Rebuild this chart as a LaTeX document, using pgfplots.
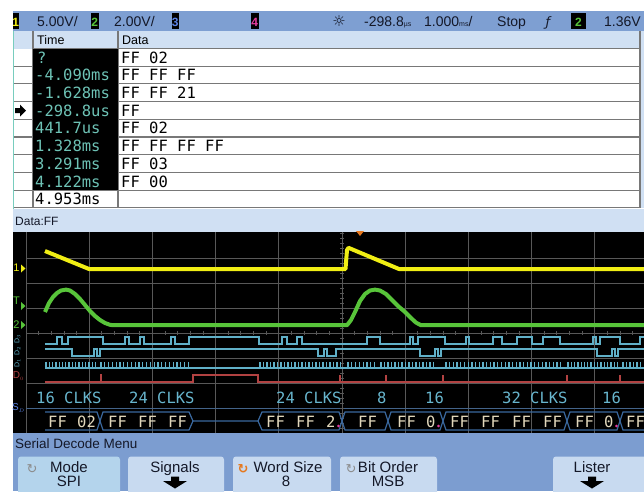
\documentclass[border=0pt]{standalone}
\usepackage{pgfplots}
\pgfplotsset{compat=1.18}
\usepackage{fontspec}
\setmainfont{Liberation Sans}
\newfontfamily\mono{DejaVu Sans Mono}
\newfontfamily\dv{DejaVu Sans}
\definecolor{barblue}{RGB}{126,159,210}
\definecolor{hdrblue}{RGB}{208,224,243}
\definecolor{tealt}{RGB}{110,195,182}
\definecolor{tealb}{RGB}{120,205,190}
\definecolor{gridc}{RGB}{88,88,88}
\definecolor{yel}{RGB}{240,238,20}
\definecolor{grn}{RGB}{88,196,58}
\definecolor{cyn}{RGB}{96,176,200}
\definecolor{redc}{RGB}{178,66,66}
\definecolor{busb}{RGB}{58,104,158}
\definecolor{beige}{RGB}{226,216,188}
\definecolor{clks}{RGB}{104,182,206}
\definecolor{btn}{RGB}{200,218,240}
\definecolor{btnmode}{RGB}{180,212,236}
\definecolor{menublue}{RGB}{124,157,208}
\definecolor{rowline}{RGB}{120,120,120}
\definecolor{txt}{RGB}{20,24,40}
\definecolor{pinkc}{RGB}{230,60,160}
\definecolor{blue3}{RGB}{90,130,230}
\definecolor{orangec}{RGB}{230,120,30}
\newcommand{\TL}[4][]{\node[anchor=base west,inner sep=0,#1] at (axis cs:#2,#3) {#4};}
\newcommand{\TC}[4][]{\node[anchor=base,inner sep=0,#1] at (axis cs:#2,#3) {#4};}
\newcommand{\mt}{\mono\fontsize{15.5}{16}\selectfont}
\newcommand{\bt}{\mono\fontsize{15.5}{16}\selectfont}
\begin{document}
\begin{tikzpicture}
\begin{axis}[width=644pt,height=491pt,scale only axis,
  xmin=0,xmax=644,ymin=0,ymax=491,y dir=reverse,
  axis lines=none,clip=true,unbounded coords=jump]
% background
\addplot[fill=white,draw=none] coordinates {(0,0)(644,0)(644,491)(0,491)};
% top bar
\addplot[fill=barblue,draw=none] coordinates {(13,11)(644,11)(644,31)(13,31)};
% header row
\addplot[fill=hdrblue,draw=none] coordinates {(13,31)(644,31)(644,48.5)(13,48.5)};
\addplot[fill=hdrblue,draw=none] coordinates {(640,31)(644,31)(644,208)(640,208)};
% row lines
\addplot[rowline,line width=1.1pt] coordinates {
 (33,48.5)(640,48.5) (nan,nan) (13,66.2)(640,66.2) (nan,nan) (13,83.9)(640,83.9) (nan,nan)
 (13,101.6)(640,101.6) (nan,nan) (13,119.3)(640,119.3) (nan,nan) (13,137)(640,137) (nan,nan)
 (13,154.7)(640,154.7) (nan,nan) (13,172.4)(640,172.4) (nan,nan) (13,190.1)(640,190.1) (nan,nan)
 (13,207.8)(640,207.8) (nan,nan)
 (33,31)(33,207.8) (nan,nan) (118,31)(118,207.8) (nan,nan) (640,31)(640,207.8)};
% black time cells
\addplot[fill=black,draw=none] coordinates {(33,48.5)(118,48.5)(118,190.1)(33,190.1)};
\addplot[tealb,line width=1.2pt] coordinates {(13.5,31)(13.5,232)};
% data bar
\addplot[fill=hdrblue,draw=none] coordinates {(13,208.5)(644,208.5)(644,232)(13,232)};
% row-4 arrow
\addplot[fill=black,draw=none] coordinates {(15,108)(20,108)(20,104.5)(26,110.5)(20,116.5)(20,113)(15,113)};
% scope background
\addplot[fill=black,draw=none] coordinates {(13,232)(644,232)(644,433)(13,433)};
% grid
\addplot[gridc,line width=0.8pt] coordinates {
 (26,232)(26,433) (nan,nan) (89.2,232)(89.2,433) (nan,nan) (152.4,232)(152.4,433) (nan,nan)
 (215.6,232)(215.6,433) (nan,nan) (278.8,232)(278.8,433) (nan,nan) (342,232)(342,433) (nan,nan)
 (405.2,232)(405.2,433) (nan,nan) (468.4,232)(468.4,433) (nan,nan) (531.6,232)(531.6,433) (nan,nan)
 (594.8,232)(594.8,433) (nan,nan)
 (26,258)(644,258) (nan,nan) (26,283)(644,283) (nan,nan) (26,308)(644,308) (nan,nan)
 (26,333)(644,333) (nan,nan) (26,358)(644,358) (nan,nan) (26,383)(644,383)};
\addplot[busb!70!gridc,line width=1pt] coordinates {(26,408.5)(644,408.5)};
\addplot[gridc,line width=4pt,dash pattern=on 0.8pt off 11.84pt] coordinates {(25.6,333)(644,333)};
\addplot[gridc,line width=4pt,dash pattern=on 0.8pt off 4.2pt] coordinates {(342,232.6)(342,433)};
% trigger marker
\addplot[fill=orangec,draw=none] coordinates {(356,231)(364,231)(360,236)};
% channel 1 (yellow)
\addplot[yel,line width=4pt,line join=round] coordinates {(45,251)(89,269)(345.5,269)(346.2,260)(347,250)(348.5,247.8)(399,269)(644,269)};
% channel 2 (green)
\addplot[grn,line width=4pt,line join=round] coordinates {
 (45,312)(49,303)(53,297)(57,293)(61,290.5)(66,289.6)(70,290.5)(75,294)(80,299)(85,305)(90,311)
 (95,316)(100,320)(105,323)(110,324.8)(113,325.2)
 (347,325.2)(351,320)(355,312)(360,301)(365,294)(370,290.5)(375,289.6)(380,290.5)(386,294)
 (392,300)(398,306)(405,312)(411,318)(416,322.6)(421,325.2)(644,325.2)};
% D3
\addplot[cyn,line width=1.2pt] coordinates {(45,344)(57,344)(57,337)(62,337)(62,344)(68,344)(68,337)(103,337)(103,344)(125,344)(125,337)(129,337)(129,344)(140,344)(140,337)(144,337)(144,344)(171,344)(171,337)(175,337)(175,344)(189,344)(189,337)(259,337)(259,344)(282,344)(282,337)(287,337)(287,344)(297,344)(297,337)(302,337)(302,344)(367,344)(367,337)(380,337)(380,344)(410,344)(410,337)(413,337)(413,344)(418,344)(418,337)(445,337)(445,344)(466,344)(466,337)(469,337)(469,344)(493,344)(493,337)(502,337)(502,344)(517,344)(517,337)(532,337)(532,344)(543,344)(543,337)(560,337)(560,344)(593,344)(593,337)(596,337)(596,344)(600,344)(600,337)(620,337)(620,344)(640,344)(640,337)(644,337)};
% D2
\addplot[cyn,line width=1.2pt] coordinates {(45,349)(72,349)(72,356)(94,356)(94,349)(97,349)(97,356)(100,356)(100,349)(318,349)(318,356)(324,356)(324,349)(327,349)(327,356)(336,356)(336,349)(420,349)(420,356)(435,356)(435,349)(438,349)(438,356)(441,356)(441,349)(597,349)(597,356)(612,356)(612,349)(615,349)(615,356)(618,356)(618,349)(644,349)};
% D1 baseline and clock pulses
\addplot[cyn,line width=1.2pt] coordinates {(45,368)(644,368)};
\addplot[cyn,only marks,mark=|,mark size=3.2pt,mark options={line width=1.3pt}] coordinates {
 (46,365)(49.3,365)(52.6,365)(55.9,365)(59.2,365)(62.5,365)(65.8,365)(69.1,365)(72.4,365)(75.7,365)(79,365)(82.3,365)(85.6,365)(88.9,365)(92.2,365)(95.5,365)
 (101,365)(104.8,365)(108.6,365)(112.4,365)(116.2,365)(120,365)(123.8,365)(127.6,365)(131.4,365)(135.2,365)(139,365)(142.8,365)(146.6,365)(150.4,365)(154.2,365)(158,365)(161.8,365)(165.6,365)(169.4,365)(173.2,365)(177,365)(180.8,365)(184.6,365)(188.4,365)
 (260,365)(263.5,365)(267,365)(270.5,365)(274,365)(277.5,365)(281,365)(284.5,365)(288,365)(291.5,365)(295,365)(298.5,365)(302,365)(305.5,365)(309,365)(312.5,365)(316,365)(319.5,365)(323,365)(326.5,365)(330,365)(333.5,365)(337,365)(340.5,365)
 (348,365)(351.8,365)(355.6,365)(359.4,365)(363.2,365)(367,365)(370.8,365)(374.6,365)
 (381,365)(384.5,365)(388,365)(391.5,365)(395,365)(398.5,365)(402,365)(405.5,365)(409,365)(412.5,365)(416,365)(419.5,365)(423,365)(426.5,365)(430,365)(433.5,365)
 (446,365)(449.7,365)(453.4,365)(457.1,365)(460.8,365)(464.5,365)(468.2,365)(471.9,365)(475.6,365)(479.3,365)(483,365)(486.7,365)(490.4,365)(494.1,365)(497.8,365)(501.5,365)(505.2,365)(508.9,365)(512.6,365)(516.3,365)(520,365)(523.7,365)(527.4,365)(531.1,365)(534.8,365)(538.5,365)(542.2,365)(545.9,365)(549.6,365)(553.3,365)(557,365)(560.7,365)
 (568,365)(571.3,365)(574.6,365)(577.9,365)(581.2,365)(584.5,365)(587.8,365)(591.1,365)(594.4,365)(597.7,365)(601,365)(604.3,365)(607.6,365)(610.9,365)(614.2,365)(617.5,365)
 (623,365)(626.5,365)(630,365)(633.5,365)(637,365)(640.5,365)};
% D0
\addplot[redc,line width=1.3pt] coordinates {(45,382)(100.5,382)(100.5,375)(101.5,375)(101.5,382)(193,382)(193,375)(258,375)(258,382)(339.5,382)(339.5,375.5)(340.5,375.5)(340.5,382)(385.5,382)(385.5,375.5)(386.5,375.5)(386.5,382)(442.5,382)(442.5,375.5)(443.5,375.5)(443.5,382)(566.5,382)(566.5,375.5)(567.5,375.5)(567.5,382)(619.5,382)(619.5,375.5)(620.5,375.5)(620.5,382)(644,382)};
% serial bus outline
\addplot[busb,line width=1.2pt] coordinates {(45,412)(97,412)(103,430)(189,430)(193,421)(258,421)(262,412)(339,412)(345,430)(385,430)(391,412)(440,412)(446,430)(564,430)(570,412)(617,412)(623,430)(644,430)};
\addplot[busb,line width=1.2pt] coordinates {(45,430)(97,430)(103,412)(189,412)(193,421) (nan,nan) (258,421)(262,430)(339,430)(345,412)(385,412)(391,430)(440,430)(446,412)(564,412)(570,430)(617,430)(623,412)(644,412)};
\addplot[pinkc,only marks,mark=*,mark size=1.1pt] coordinates {(338.5,426)(438.5,426)(616.5,426)};
% menu
\addplot[fill=menublue,draw=none] coordinates {(13,433)(644,433)(644,491)(13,491)};
\addplot[fill=btnmode,draw=none,rounded corners=3pt] coordinates {(18,456.5)(120,456.5)(120,498)(18,498)} -- cycle;
\addplot[fill=btn,draw=none,rounded corners=3pt] coordinates {(128,456.5)(224,456.5)(224,498)(128,498)} -- cycle;
\addplot[fill=btn,draw=none,rounded corners=3pt] coordinates {(233,456.5)(331,456.5)(331,498)(233,498)} -- cycle;
\addplot[fill=btn,draw=none,rounded corners=3pt] coordinates {(340,456.5)(437,456.5)(437,498)(340,498)} -- cycle;
\addplot[fill=btn,draw=none,rounded corners=3pt] coordinates {(553,456.5)(650,456.5)(650,498)(553,498)} -- cycle;
% down arrows
\addplot[fill=black,draw=none] coordinates {(171,476.5)(179,476.5)(179,481)(187,481)(175,488.5)(163,481)(171,481)};
\addplot[fill=black,draw=none] coordinates {(588,476.5)(596,476.5)(596,481)(604,481)(592,488.5)(580,481)(588,481)};
% ---------- text ----------
% top bar
\addplot[fill=black,draw=none] coordinates {(12.5,12.7)(19,12.7)(19,28.7)(12.5,28.7)};
\addplot[fill=black,draw=none] coordinates {(91,12.7)(98.5,12.7)(98.5,28.7)(91,28.7)};
\addplot[fill=black,draw=none] coordinates {(171.5,12.7)(179,12.7)(179,28.7)(171.5,28.7)};
\addplot[fill=black,draw=none] coordinates {(251,12.7)(258.5,12.7)(258.5,28.7)(251,28.7)};
\addplot[fill=black,draw=none] coordinates {(571,12.7)(586,12.7)(586,28.7)(571,28.7)};
\TC[text=yel]{15.8}{26}{\fontsize{12}{12}\selectfont\bfseries 1}
\TC[text=grn]{94.8}{26}{\fontsize{12}{12}\selectfont\bfseries 2}
\TC[text=blue3]{175.2}{26}{\fontsize{12}{12}\selectfont\bfseries 3}
\TC[text=pinkc]{254.8}{26}{\fontsize{12}{12}\selectfont\bfseries 4}
\TC[text=grn]{578.5}{26}{\fontsize{12}{12}\selectfont\bfseries 2}
\TL[text=txt]{37}{26}{\fontsize{14}{14}\selectfont 5.00V/}
\TL[text=txt]{114}{26}{\fontsize{14}{14}\selectfont 2.00V/}
\TC[text=txt]{339}{26}{\dv\fontsize{15}{15}\selectfont ☼}
\TL[text=txt]{364}{26}{\fontsize{14}{14}\selectfont -298.8{\fontsize{7}{7}\selectfont µs}}
\TL[text=txt]{424}{26}{\fontsize{14}{14}\selectfont 1.000{\fontsize{7}{7}\selectfont ms}/}
\TL[text=txt]{497}{26}{\fontsize{14}{14}\selectfont Stop}
\TC[text=txt]{548}{26}{\dv\fontsize{13}{13}\selectfont\itshape ƒ}
\TL[text=txt]{604}{26}{\fontsize{14}{14}\selectfont 1.36V}
% header
\TL[text=black]{37}{44}{\fontsize{12.5}{12.5}\selectfont Time}
\TL[text=black]{122}{44}{\fontsize{12.5}{12.5}\selectfont Data}
% table rows
\TL[text=tealt]{37}{63}{\mt ?}
\TL[text=tealt]{35}{80.8}{\mt -4.090ms}
\TL[text=tealt]{35}{98.5}{\mt -1.628ms}
\TL[text=tealt]{35}{116.2}{\mt -298.8us}
\TL[text=tealt]{35}{133.9}{\mt 441.7us}
\TL[text=tealt]{35}{151.6}{\mt 1.328ms}
\TL[text=tealt]{35}{169.3}{\mt 3.291ms}
\TL[text=tealt]{35}{187}{\mt 4.122ms}
\TL[text=black]{35}{204.7}{\mt 4.953ms}
\TL[text=black]{121}{63}{\mt FF 02}
\TL[text=black]{121}{80.8}{\mt FF FF FF}
\TL[text=black]{121}{98.5}{\mt FF FF 21}
\TL[text=black]{121}{116.2}{\mt FF}
\TL[text=black]{121}{133.9}{\mt FF 02}
\TL[text=black]{121}{151.6}{\mt FF FF FF FF}
\TL[text=black]{121}{169.3}{\mt FF 03}
\TL[text=black]{121}{187}{\mt FF 00}
\TL[text=txt]{15}{225}{\fontsize{12}{12}\selectfont Data:FF}
% channel labels
\TC[text=yel]{16.5}{271}{\fontsize{11}{11}\selectfont 1}
\addplot[fill=yel,draw=none] coordinates {(21,264.5)(25.5,268.5)(21,272.5)};
\TC[text=grn]{16.5}{304}{\fontsize{11}{11}\selectfont T}
\addplot[fill=grn,draw=none] coordinates {(21,302)(25.5,306)(21,310)};
\TC[text=grn]{16.5}{328}{\fontsize{11}{11}\selectfont 2}
\addplot[fill=grn,draw=none] coordinates {(21,321)(25.5,325)(21,329)};
\node[inner sep=0,text=cyn,rotate=90] at (axis cs:17.5,339) {\fontsize{7}{7}\selectfont D$_3$};
\node[inner sep=0,text=cyn,rotate=90] at (axis cs:17.5,351) {\fontsize{7}{7}\selectfont D$_2$};
\node[inner sep=0,text=cyn,rotate=90] at (axis cs:17.5,363) {\fontsize{7}{7}\selectfont D$_1$};
\node[inner sep=0,text=redc] at (axis cs:18.5,376) {\fontsize{10}{10}\selectfont D$_{\scriptscriptstyle 0}$};
\node[inner sep=0,text=blue3] at (axis cs:18.5,408) {\fontsize{10}{10}\selectfont S$_{\scriptscriptstyle D}$};
% CLKS labels
\TL[text=clks]{36}{403.5}{\bt 16 CLKS}
\TL[text=clks]{129}{403.5}{\bt 24 CLKS}
\TL[text=clks]{276}{403.5}{\bt 24 CLKS}
\TL[text=clks]{377}{403.5}{\bt 8}
\TL[text=clks]{425}{403.5}{\bt 16}
\TL[text=clks]{502}{403.5}{\bt 32 CLKS}
\TL[text=clks]{602}{403.5}{\bt 16}
% bus data
\TL[text=beige]{48}{427}{\bt FF}
\TL[text=beige]{77}{427}{\bt 02}
\TL[text=beige]{108}{427}{\bt FF}
\TL[text=beige]{138}{427}{\bt FF}
\TL[text=beige]{168}{427}{\bt FF}
\TL[text=beige]{266}{427}{\bt FF}
\TL[text=beige]{296}{427}{\bt FF}
\TL[text=beige]{326}{427}{\bt 2}
\TL[text=beige]{358}{427}{\bt FF}
\TL[text=beige]{397}{427}{\bt FF}
\TL[text=beige]{426}{427}{\bt 0}
\TL[text=beige]{450}{427}{\bt FF}
\TL[text=beige]{481}{427}{\bt FF}
\TL[text=beige]{512}{427}{\bt FF}
\TL[text=beige]{543}{427}{\bt FF}
\TL[text=beige]{575}{427}{\bt FF}
\TL[text=beige]{604}{427}{\bt 0}
\TL[text=beige]{626}{427}{\bt FF}
% menu text
\TL[text=txt]{15}{448}{\fontsize{13.5}{13.5}\selectfont Serial Decode Menu}
\TC[text=black!45]{32}{473}{\dv\fontsize{13}{13}\selectfont ↻}
\TC[text=txt]{69}{472}{\fontsize{15}{15}\selectfont Mode}
\TC[text=txt]{69}{486.5}{\fontsize{15}{15}\selectfont SPI}
\TC[text=txt]{175}{472}{\fontsize{15}{15}\selectfont Signals}
\TC[text=orangec]{243}{473}{\dv\fontsize{13}{13}\selectfont\bfseries ↻}
\TC[text=txt]{288}{472}{\fontsize{15}{15}\selectfont Word Size}
\TC[text=txt]{286}{486.5}{\fontsize{15}{15}\selectfont 8}
\TC[text=black!45]{351}{473}{\dv\fontsize{13}{13}\selectfont ↻}
\TC[text=txt]{388}{472}{\fontsize{15}{15}\selectfont Bit Order}
\TC[text=txt]{388}{486.5}{\fontsize{15}{15}\selectfont MSB}
\TC[text=txt]{592}{472}{\fontsize{15}{15}\selectfont Lister}
\coordinate (BL) at (axis cs:0,491);
\coordinate (TR) at (axis cs:644,0);
\end{axis}
\pgfresetboundingbox
\path[use as bounding box] (BL) rectangle (TR);
\end{tikzpicture}
\end{document}
